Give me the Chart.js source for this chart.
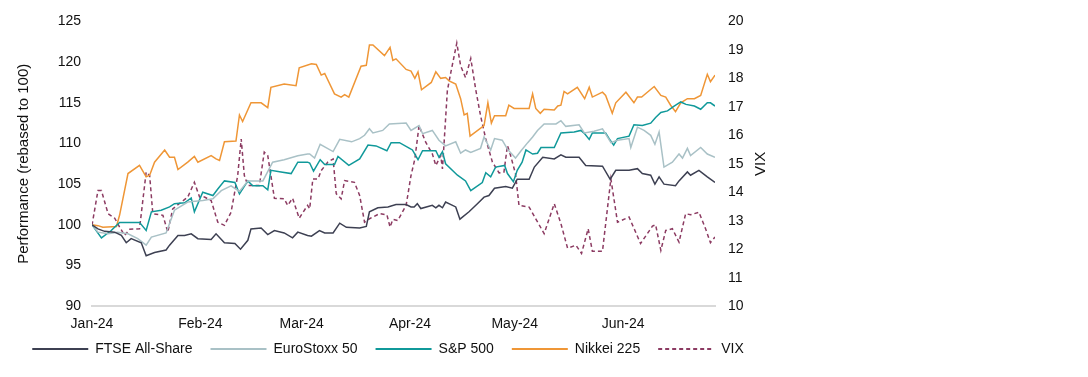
<!DOCTYPE html>
<html>
<head>
<meta charset="utf-8">
<script src="https://cdn.jsdelivr.net/npm/chart.js@4.4.1/dist/chart.umd.min.js"></script>
<style>
  html, body { margin: 0; padding: 0; background: #fff; }
  #wrap { position: relative; width: 776px; height: 377px; }
</style>
</head>
<body>
<div id="wrap"><canvas id="chart"></canvas></div>
<script>
// x = days since 1 Jan 2024, y = value
const monthDays = [0, 31, 60, 91, 121, 152];
const monthLabels = ['Jan-24', 'Feb-24', 'Mar-24', 'Apr-24', 'May-24', 'Jun-24'];

const ftse = [[0,100.0],[1.7,99.5],[3.6,99.2],[6.5,99.1],[8.4,98.7],[9.8,97.8],[11.2,98.3],[14.1,97.8],[15.5,96.2],[17.9,96.6],[21.2,96.9],[22.2,97.5],[24.6,98.7],[26.5,98.7],[28.4,98.9],[30.3,98.3],[34.1,98.2],[35.5,98.9],[37.9,97.8],[40.9,97.7],[42.5,97.0],[44.6,98.1],[45.5,99.5],[48.4,99.6],[50.3,98.8],[52.2,99.3],[55.0,99.0],[57.4,98.4],[58.9,99.1],[61.7,98.7],[62.8,98.6],[65.1,99.3],[66.6,99.0],[69.0,99.0],[70.9,100.2],[72.8,99.7],[76.6,99.6],[78.5,99.8],[79.4,101.6],[81.8,102.1],[84.7,102.2],[87.0,102.5],[89.9,102.5],[91.3,102.2],[92.2,102.2],[93.1,102.6],[94.1,102.0],[97.4,102.4],[98.4,102.1],[99.3,102.4],[100.3,102.1],[101.2,102.8],[104.1,102.2],[105.3,100.7],[107.9,101.6],[110.3,102.6],[112.2,103.4],[113.6,103.6],[115.2,104.5],[118.4,104.7],[120.3,104.5],[121.7,105.6],[123.1,105.6],[125.1,105.6],[126.6,107.1],[129.0,108.3],[132.3,108.1],[134.2,108.6],[135.6,108.3],[139.4,108.3],[141.3,107.3],[146.1,107.2],[148.3,105.6],[149.9,106.7],[153.7,106.7],[156.1,106.9],[157.5,106.3],[159.9,106.1],[161.1,105.0],[162.3,105.9],[163.7,105.0],[167.0,104.8],[168.0,105.4],[170.4,106.5],[171.3,106.1],[173.7,106.7],[176.1,105.9],[178.3,105.2]];

const euroStoxx = [[0,100.0],[1.7,99.1],[4.6,98.9],[7.4,99.1],[10.3,98.9],[13.1,98.3],[15.5,97.5],[17.0,98.5],[21.2,99.0],[23.6,101.8],[27.4,102.8],[31.7,103.0],[34.6,103.2],[37.0,104.2],[39.8,104.8],[42.2,104.1],[44.6,105.4],[48.9,105.4],[51.7,107.7],[55.0,108.0],[58.9,108.5],[61.7,108.7],[62.3,108.7],[63.7,108.2],[65.3,109.9],[69.0,109.0],[70.9,110.5],[74.3,110.2],[76.6,110.6],[78.0,111.0],[79.4,111.8],[80.4,111.3],[83.2,111.6],[85.1,112.4],[89.9,112.5],[91.3,111.6],[93.6,112.2],[94.6,111.2],[97.4,111.6],[99.3,110.4],[101.2,109.7],[104.1,110.2],[105.5,108.8],[106.9,109.2],[108.4,108.9],[111.2,109.4],[112.2,110.8],[114.1,109.2],[115.2,110.6],[117.4,110.4],[118.9,109.3],[121.2,108.2],[122.8,109.1],[124.7,110.1],[126.1,110.8],[127.5,111.6],[129.4,112.4],[132.8,112.4],[134.2,112.8],[135.6,112.1],[139.4,112.3],[140.9,111.3],[143.7,111.5],[146.1,111.8],[147.5,110.8],[148.5,110.1],[150.4,110.4],[153.7,110.6],[154.2,109.5],[156.1,112.0],[158.0,111.6],[159.9,111.0],[161.1,109.9],[162.3,111.4],[163.7,107.1],[166.1,107.7],[168.0,108.7],[169.0,108.2],[170.4,109.4],[171.3,108.5],[174.2,109.5],[176.1,108.7],[178.3,108.3]];

const sp500 = [[0,100.0],[2.7,98.4],[5.5,99.3],[7.9,100.3],[13.6,100.3],[15.5,99.3],[17.0,101.6],[19.8,101.8],[22.2,102.2],[23.6,102.6],[26.5,102.7],[28.4,103.3],[29.3,101.6],[31.7,104.0],[34.6,103.6],[36.0,104.4],[37.9,105.4],[40.9,105.2],[42.2,103.8],[44.6,105.4],[46.0,104.8],[48.9,104.8],[50.3,104.3],[51.2,106.7],[54.1,106.5],[57.0,106.3],[58.9,107.7],[61.7,107.7],[62.3,107.6],[63.4,106.6],[65.3,108.0],[66.6,107.4],[69.4,107.4],[70.4,108.4],[73.5,107.3],[76.6,108.1],[79.0,109.8],[81.3,109.7],[84.4,109.1],[85.6,110.1],[88.0,110.1],[90.9,109.4],[91.7,109.2],[93.3,108.0],[94.6,109.1],[98.4,109.1],[99.3,108.3],[100.3,109.0],[101.2,107.5],[104.6,106.1],[106.9,105.4],[108.4,104.2],[111.7,105.2],[112.7,106.4],[114.1,105.9],[115.5,107.1],[118.1,107.3],[118.9,106.3],[120.6,105.3],[121.7,106.7],[123.1,107.7],[124.2,109.2],[126.1,108.7],[127.5,108.8],[128.5,109.5],[132.3,109.5],[134.2,111.3],[138.0,111.4],[139.9,111.6],[141.0,111.2],[142.3,110.5],[143.2,111.3],[147.0,111.3],[148.0,110.6],[149.3,109.8],[150.4,110.6],[153.7,110.9],[155.1,112.3],[157.5,112.2],[159.9,112.5],[161.3,113.2],[162.8,113.8],[164.7,114.0],[166.6,114.6],[168.5,115.1],[170.0,114.8],[172.4,114.6],[174.2,114.2],[176.1,115.0],[177.0,115.0],[178.3,114.6]];

const nikkei = [[0,100.0],[1.7,99.9],[3.1,99.7],[7.0,99.8],[7.9,101.2],[10.3,106.3],[13.6,107.3],[15.5,105.9],[16.5,106.1],[17.9,107.7],[20.8,109.2],[22.2,108.3],[23.6,108.3],[24.6,106.8],[27.4,107.7],[29.3,108.4],[30.3,107.7],[34.1,108.5],[35.5,108.1],[36.5,107.9],[37.9,110.2],[41.2,110.3],[42.2,113.5],[43.1,112.7],[45.5,115.0],[48.4,115.0],[50.3,114.4],[51.2,116.9],[55.0,117.3],[58.4,117.1],[59.3,119.3],[62.8,119.8],[64.2,119.7],[65.6,118.4],[66.6,118.6],[69.4,116.1],[71.3,115.7],[72.3,116.0],[73.5,115.7],[77.0,119.5],[78.5,119.6],[79.4,122.1],[80.4,122.1],[83.7,120.8],[85.3,121.8],[86.1,120.2],[87.0,120.4],[89.9,119.1],[91.3,118.9],[92.4,118.0],[93.3,118.8],[94.3,116.6],[97.1,117.5],[98.4,118.8],[99.8,118.0],[101.2,118.1],[102.2,117.7],[104.1,117.3],[105.5,115.5],[106.5,113.5],[107.4,113.7],[108.2,110.9],[112.2,112.2],[113.3,115.0],[114.3,112.5],[115.2,113.4],[118.4,113.4],[119.3,114.7],[120.8,114.3],[125.1,114.3],[126.1,116.1],[127.0,114.3],[128.3,113.7],[129.4,114.2],[132.3,114.1],[133.3,114.6],[134.2,114.7],[135.1,116.4],[136.1,116.1],[138.9,116.9],[141.0,115.5],[142.3,116.9],[143.2,115.7],[146.1,116.3],[147.0,115.9],[148.9,113.7],[149.9,115.0],[152.8,116.3],[155.1,115.0],[156.1,115.7],[157.3,115.7],[160.9,117.0],[162.8,115.9],[164.2,115.7],[165.6,114.7],[167.0,113.9],[168.5,115.0],[170.4,115.5],[172.4,115.5],[174.2,115.9],[176.1,118.5],[177.0,117.6],[178.3,118.4]];

const vix = [[0,12.84],[1.7,14.06],[2.7,14.06],[4.6,13.25],[6.5,13.09],[7.9,12.78],[9.3,12.49],[10.8,12.70],[13.6,12.72],[15.5,14.71],[16.5,14.59],[17.4,13.25],[20.3,13.19],[21.7,12.60],[23.1,13.42],[27.4,13.83],[29.3,14.35],[30.8,13.83],[32.2,13.83],[34.1,13.71],[36.0,12.95],[37.9,12.84],[39.8,13.30],[41.7,14.59],[42.7,15.87],[43.6,14.59],[44.6,14.24],[47.9,14.24],[49.3,15.41],[50.3,15.29],[52.2,13.79],[55.0,13.77],[56.0,13.54],[57.4,13.79],[59.3,13.09],[61.7,13.54],[62.3,13.42],[63.2,14.47],[64.7,14.47],[65.6,14.76],[67.5,15.06],[69.0,15.17],[69.9,13.95],[71.3,13.77],[72.3,14.41],[75.1,14.35],[76.6,13.89],[78.0,12.95],[79.4,13.07],[82.3,13.25],[84.4,13.21],[85.3,12.78],[86.1,13.05],[87.5,13.01],[89.9,13.54],[91.3,14.59],[92.4,15.17],[93.6,16.34],[95.5,15.76],[97.4,15.35],[98.4,14.94],[99.8,15.29],[100.3,14.82],[101.7,17.57],[102.7,18.21],[104.4,19.24],[105.5,18.44],[106.9,18.03],[108.4,18.70],[109.8,17.62],[111.2,16.69],[112.7,15.87],[114.6,15.06],[116.5,14.68],[117.9,14.71],[118.9,15.64],[119.8,15.29],[121.2,14.65],[122.2,13.54],[125.1,13.48],[127.0,13.07],[129.4,12.55],[132.3,13.60],[134.2,12.90],[136.1,12.04],[138.5,12.14],[140.1,11.85],[142.0,12.72],[143.2,11.93],[146.1,11.93],[148.5,14.47],[150.4,12.95],[153.7,13.13],[157.0,12.20],[160.4,12.81],[161.3,12.86],[162.8,11.96],[164.2,12.66],[166.1,12.72],[168.0,12.25],[169.9,13.25],[171.3,13.21],[173.7,13.30],[175.6,12.72],[177.0,12.23],[178.3,12.43]];

function toXY(arr) { return arr.map(p => ({ x: p[0], y: p[1] })); }

const FONT = '"Liberation Sans", Arial, sans-serif';
Chart.defaults.font.family = FONT;
Chart.defaults.font.size = 14;
Chart.defaults.color = '#111';

// right axis title reads bottom-to-top like the left one, so draw it by hand
const vixTitle = {
  id: 'vixTitle',
  afterLayout(chart) {
    // pull the legend row up, closer to the month labels
    chart.legend.top -= 19;
    chart.legend.bottom -= 19;
  },
  afterDraw(chart) {
    const { ctx, chartArea } = chart;
    const s = chart.scales.y1;
    ctx.save();
    ctx.translate(s.left + 46, (chartArea.top + chartArea.bottom) / 2);
    ctx.rotate(-Math.PI / 2);
    ctx.font = '15px ' + FONT;
    ctx.fillStyle = '#111';
    ctx.textAlign = 'center';
    ctx.textBaseline = 'middle';
    ctx.fillText('VIX', 0, 0);
    ctx.restore();
  }
};

function line(label, data, color, axis, dash) {
  return {
    label, data: toXY(data), yAxisID: axis,
    borderColor: color, backgroundColor: color,
    borderWidth: 1.5, borderDash: dash || [],
    pointRadius: 0, tension: 0, fill: false
  };
}

new Chart(document.getElementById('chart'), {
  type: 'line',
  data: {
    datasets: [
      line('FTSE All-Share', ftse, '#3d4052', 'y'),
      line('EuroStoxx 50', euroStoxx, '#a9c1c6', 'y'),
      line('S&P 500', sp500, '#10999a', 'y'),
      line('Nikkei 225', nikkei, '#ef9636', 'y'),
      line('VIX', vix, '#8c3b62', 'y1', [4, 3])
    ]
  },
  options: {
    responsive: true, maintainAspectRatio: false, animation: false,
    layout: { padding: { left: 0, right: 0, top: 13, bottom: -8 } },
    scales: {
      x: {
        type: 'linear', min: 0, max: 178.3,
        grid: { display: false, drawTicks: false },
        border: { color: '#d9d9d9', width: 2 },
        afterBuildTicks: s => { s.ticks = monthDays.map(v => ({ value: v })); },
        ticks: {
          autoSkip: false, maxRotation: 0, padding: 10,
          callback: v => monthLabels[monthDays.indexOf(v)]
        }
      },
      y: {
        position: 'left', min: 90, max: 125,
        grid: { display: false, drawTicks: false }, border: { display: false },
        afterFit: s => { s.width = 92; },
        ticks: { stepSize: 5, padding: 11 },
        title: { display: true, text: 'Performance (rebased to 100)', font: { size: 15 }, padding: { top: 15, bottom: 0 } }
      },
      y1: {
        position: 'right', min: 10, max: 20,
        grid: { display: false, drawTicks: false }, border: { display: false },
        afterFit: s => { s.width = 61; },
        ticks: { stepSize: 1, padding: 13 }
      }
    },
    plugins: {
      legend: {
        position: 'bottom',
        labels: {
          usePointStyle: true, pointStyle: 'line', pointStyleWidth: 56, padding: 18,
          generateLabels(chart) {
            const items = Chart.defaults.plugins.legend.labels.generateLabels(chart);
            items.forEach(it => {
              const ds = chart.data.datasets[it.datasetIndex];
              it.lineDash = ds.borderDash;
              it.lineWidth = 2;
              it.strokeStyle = ds.borderColor;
            });
            return items;
          }
        }
      },
      tooltip: { enabled: false }
    }
  },
  plugins: [vixTitle]
});
</script>
</body>
</html>
